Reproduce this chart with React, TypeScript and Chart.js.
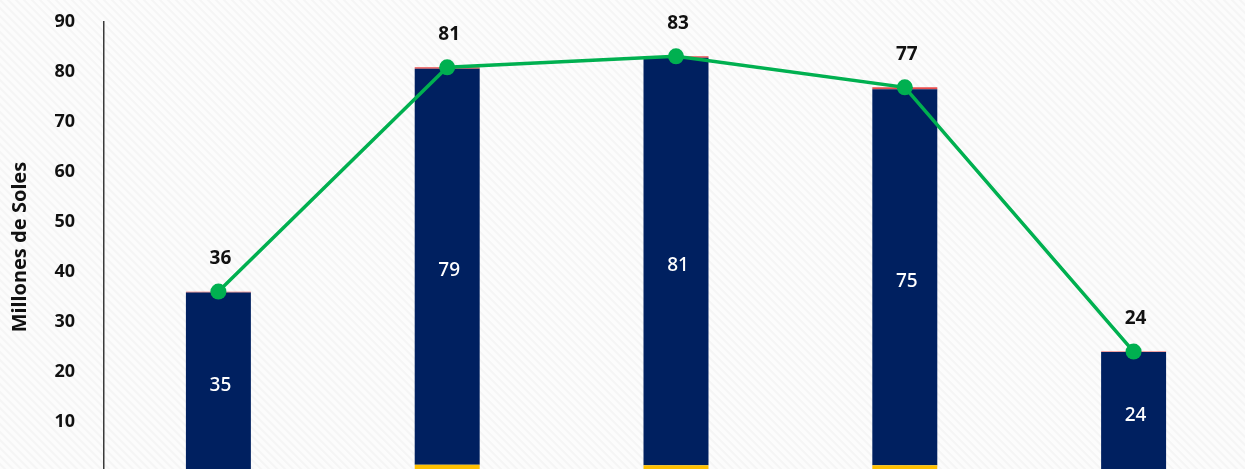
import React, { useEffect, useRef } from "react";
import { Chart, registerables } from "chart.js";

Chart.register(...registerables);

const categories = ["1", "2", "3", "4", "5"];
const yellowValues = [0.3, 1.5, 1.4, 1.4, 0.1];
const navyValues = [35.6, 79.1, 81.4, 75.1, 23.9];
const redValues = [0.15, 0.3, 0.3, 0.4, 0.1];
const navyLabels = ["35", "79", "81", "75", "24"];
const totalValues = [36.1, 80.9, 83.1, 76.9, 24.1];
const totalLabels = ["36", "81", "83", "77", "24"];
const yTicks = [10, 20, 30, 40, 50, 60, 70, 80, 90];

const W = 1256;
const H = 530;
const SHIFT = 18;

const bgPlugin = {
  id: "bgStripes",
  beforeDraw(chart: any) {
    const { ctx, width, height } = chart;
    ctx.save();
    ctx.fillStyle = "#fcfcfc";
    ctx.fillRect(0, 0, width, height);
    ctx.strokeStyle = "#f5f5f5";
    ctx.lineWidth = 2;
    ctx.beginPath();
    for (let x = -height; x < width + height; x += 8) {
      ctx.moveTo(x, 0);
      ctx.lineTo(x + height, height);
    }
    ctx.stroke();
    ctx.restore();
  },
};

const labelPlugin = {
  id: "valueLabels",
  afterDatasetsDraw(chart: any) {
    const { ctx } = chart;
    ctx.save();
    ctx.textAlign = "center";
    ctx.textBaseline = "middle";
    const navyMeta = chart.getDatasetMeta(1);
    ctx.fillStyle = "#ffffff";
    ctx.font = "500 19px 'Noto Sans', sans-serif";
    navyMeta.data.forEach((el: any, i: number) => {
      const y = (el.y + el.base) / 2 + 4;
      ctx.fillText(navyLabels[i], el.x + 2, y);
    });
    const lineMeta = chart.getDatasetMeta(3);
    ctx.fillStyle = "#111111";
    ctx.font = "bold 19px 'Noto Sans', sans-serif";
    lineMeta.data.forEach((el: any, i: number) => {
      ctx.fillText(totalLabels[i], el.x + 2, el.y - 33);
    });
    ctx.restore();
  },
};

export default function App() {
  const ref = useRef<HTMLCanvasElement | null>(null);
  useEffect(() => {
    if (!ref.current) return;
    const chart = new Chart(ref.current, {
      type: "bar",
      data: {
        labels: categories,
        datasets: [
          {
            type: "bar",
            data: yellowValues,
            backgroundColor: "#FFC000",
            stack: "s",
            order: 1,
            categoryPercentage: 1,
            barPercentage: 0.284,
          },
          {
            type: "bar",
            data: navyValues,
            backgroundColor: "#002060",
            stack: "s",
            order: 1,
            categoryPercentage: 1,
            barPercentage: 0.284,
          },
          {
            type: "bar",
            data: redValues,
            backgroundColor: "#E84C4C",
            stack: "s",
            order: 1,
            categoryPercentage: 1,
            barPercentage: 0.284,
          },
          {
            type: "line",
            data: totalValues,
            borderColor: "#00B050",
            backgroundColor: "#00B050",
            borderWidth: 3.5,
            pointRadius: 8,
            pointHoverRadius: 8,
            pointBorderWidth: 0,
            stack: "line",
            order: 0,
            tension: 0,
          } as any,
        ],
      },
      options: {
        responsive: false,
        animation: false,
        layout: { padding: { top: 3, right: 0, bottom: 0, left: 0 } },
        plugins: {
          legend: { display: false },
          tooltip: { enabled: false },
        },
        scales: {
          x: {
            display: false,
            stacked: true,
          },
          y: {
            stacked: true,
            min: 0,
            max: 90,
            afterFit(scale: any) {
              scale.width = 104;
            },
            afterBuildTicks(scale: any) {
              scale.ticks = yTicks.map((v) => ({ value: v }));
            },
            grid: { display: false, drawTicks: false },
            border: { display: true, color: "#3a3a3a", width: 1.5 },
            ticks: {
              padding: 29,
              color: "#111111",
              font: { family: "'Noto Sans', sans-serif", weight: "bold", size: 18 },
            },
            title: {
              display: true,
              text: "Millones de Soles",
              color: "#111111",
              padding: { top: 8, bottom: 0 },
              font: { family: "'Noto Sans', sans-serif", weight: "bold", size: 20 },
            },
          },
        },
      },
      plugins: [bgPlugin, labelPlugin],
    });
    return () => chart.destroy();
  }, []);
  return (
    <div style={{ position: "fixed", left: 0, top: -SHIFT, width: W, height: H, overflow: "hidden" }}>
      <canvas ref={ref} width={W} height={H} style={{ display: "block", width: W, height: H }} />
    </div>
  );
}
